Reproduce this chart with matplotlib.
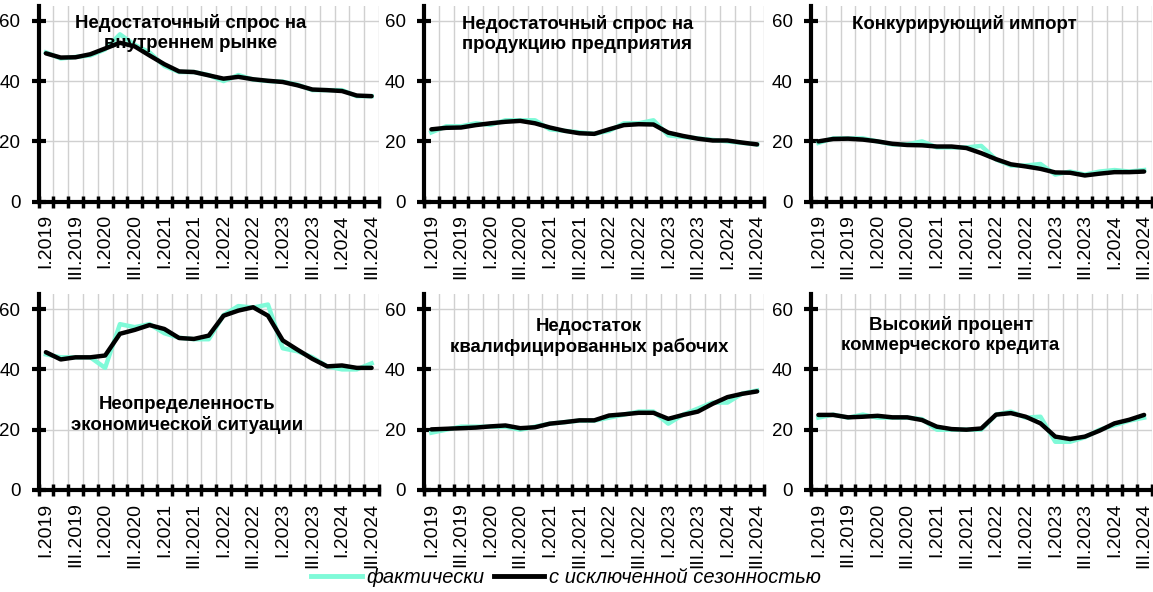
import numpy as np
import matplotlib
matplotlib.use("Agg")
import matplotlib.pyplot as plt
import matplotlib.transforms as mtransforms
from matplotlib.lines import Line2D

plt.rcParams['font.family'] = ['Liberation Sans', 'DejaVu Sans']

quarters = ["I.2019", "II.2019", "III.2019", "IV.2019",
            "I.2020", "II.2020", "III.2020", "IV.2020",
            "I.2021", "II.2021", "III.2021", "IV.2021",
            "I.2022", "II.2022", "III.2022", "IV.2022",
            "I.2023", "II.2023", "III.2023", "IV.2023",
            "I.2024", "II.2024", "III.2024"]

titles = ["Недостаточный спрос на\nвнутреннем рынке",
          "Недостаточный спрос на\nпродукцию предприятия",
          "Конкурирующий импорт",
          "Неопределенность\nэкономической ситуации",
          "Недостаток\nквалифицированных рабочих",
          "Высокий процент\nкоммерческого кредита"]

fact1 = [49.5, 47.5, 48, 48.5, 50.5, 55.5, 52, 49.5, 45, 43, 43, 42, 40, 42, 40.5, 40, 39.8, 38.8, 37, 37, 37, 35, 35]
sa1 = [49.2, 47.8, 47.9, 48.9, 50.8, 52.7, 51.5, 48.5, 45.6, 43.2, 43.0, 41.9, 40.8, 41.4, 40.6, 40.1, 39.7, 38.6, 37.2, 37.0, 36.7, 35.2, 35.0]

fact2 = [23, 25, 25, 26, 25.5, 27, 27, 27, 24, 23.5, 23, 22.5, 23.5, 26, 26, 27, 22, 21.5, 21, 20.5, 20, 19.5, 19]
sa2 = [24.0, 24.5, 24.6, 25.4, 26.0, 26.5, 26.8, 26.0, 24.6, 23.5, 22.7, 22.5, 24.0, 25.4, 25.7, 25.6, 22.9, 21.8, 20.9, 20.3, 20.3, 19.6, 19.0]

fact3 = [19.5, 21, 21, 21, 20, 19, 19, 20, 18, 18, 18, 18.5, 14, 12, 12, 12.5, 9, 10, 9, 10, 10.5, 10, 10.5]
sa3 = [20.0, 20.8, 20.9, 20.6, 20.0, 19.2, 18.8, 18.7, 18.3, 18.3, 17.8, 16.1, 14.1, 12.4, 11.7, 10.9, 9.7, 9.6, 8.7, 9.3, 9.8, 9.8, 10.0]

fact4 = [45, 44, 44, 44, 40.5, 55, 54, 55, 52, 50.5, 50, 50, 58, 61, 60.5, 61.5, 47, 46, 44, 41, 40, 40, 42]
sa4 = [45.7, 43.3, 44.0, 44.0, 44.6, 51.8, 53.1, 54.7, 53.4, 50.4, 50.1, 51.2, 57.8, 59.5, 60.6, 57.8, 49.6, 46.5, 43.5, 41.0, 41.3, 40.5, 40.5]

fact5 = [19, 20, 21, 21, 21, 21, 20, 21, 22, 22.5, 23, 23, 24, 25, 26, 26, 22, 25, 27, 29, 29, 32, 33]
sa5 = [20.1, 20.3, 20.5, 20.7, 21.1, 21.4, 20.5, 20.8, 22.0, 22.5, 23.1, 23.1, 24.7, 25.1, 25.6, 25.6, 23.6, 24.9, 26.0, 28.6, 30.8, 31.9, 32.7]

fact6 = [24, 25, 24, 25, 24, 24, 24, 23.5, 20, 20, 20, 20, 25, 26, 24, 24.3, 16, 16, 17.5, 20, 21.5, 23, 24]
sa6 = [24.9, 24.9, 24.1, 24.3, 24.6, 24.1, 24.1, 23.2, 21.0, 20.2, 20.0, 20.4, 25.0, 25.5, 24.3, 22.1, 17.7, 16.9, 17.7, 19.7, 22.1, 23.3, 24.9]

facts = [fact1, fact2, fact3, fact4, fact5, fact6]
sas = [sa1, sa2, sa3, sa4, sa5, sa6]

# title placement (axes fraction x, data y)
title_pos = [(0.448, 56), (0.45, 55.5), (0.45, 59), (0.436, 25), (0.485, 50.8), (0.41, 51.5)]

AQUA = "#7FFAD8"
GRID = "#D0D0D0"

W, H = 1153, 592
fig = plt.figure(figsize=(W / 100, H / 100), dpi=100)

lefts = [38.5, 424, 811]
bottoms = [201.7, 490]
aw, ah = 340.5, 196

x = np.arange(len(quarters))
for k in range(6):
    r, c = divmod(k, 3)
    ax = fig.add_axes([lefts[c] / W, (H - bottoms[r]) / H, aw / W, ah / H])
    ax.plot(x, facts[k], color=AQUA, lw=3.2, solid_joinstyle='round', zorder=3)
    ax.plot(x, sas[k], color="black", lw=3.2, solid_joinstyle='round', solid_capstyle='round', zorder=4)
    ax.set_xlim(-0.5, len(quarters) - 0.5)
    ax.set_ylim(0, 65)
    ax.set_yticks([0, 20, 40, 60])
    ax.set_xticks(x[::2])
    ax.set_xticklabels(quarters[::2], rotation=90, fontsize=14)
    ax.set_xticks(np.arange(-0.5, len(quarters), 1), minor=True)
    ax.tick_params(axis='x', which='major', length=0, pad=9)
    ax.tick_params(axis='x', which='minor', direction='inout', length=8, width=2.5)
    ax.tick_params(axis='y', which='major', direction='inout', length=10, width=3, pad=8, labelsize=13.5)
    ax.grid(True, axis='x', which='minor', color=GRID, lw=1, zorder=0)
    ax.grid(True, axis='y', which='major', color=GRID, lw=1, zorder=0)
    ax.grid(False, axis='x', which='major')
    for s in ['top', 'right']:
        ax.spines[s].set_visible(False)
    for s in ['left', 'bottom']:
        ax.spines[s].set_linewidth(3)
        ax.spines[s].set_zorder(5)
    ax.set_axisbelow(True)
    tx, ty = title_pos[k]
    ax.text(tx, ty, titles[k],
            transform=mtransforms.blended_transform_factory(ax.transAxes, ax.transData),
            ha='center', va='center', fontsize=13.4, fontweight='bold',
            multialignment='center', linespacing=1.22, zorder=6)

handles = [Line2D([], [], color=AQUA, lw=3.5), Line2D([], [], color='black', lw=3.5)]
fig.legend(handles, ["фактически", "с исключенной сезонностью"], loc='center',
           bbox_to_anchor=(0.491, 0.025), ncol=2, frameon=False,
           prop={'size': 14.5, 'style': 'italic'}, handlelength=2.5,
           handletextpad=0.25, columnspacing=0.45, borderpad=0, borderaxespad=0)

fig.savefig("out.png", dpi=100)
